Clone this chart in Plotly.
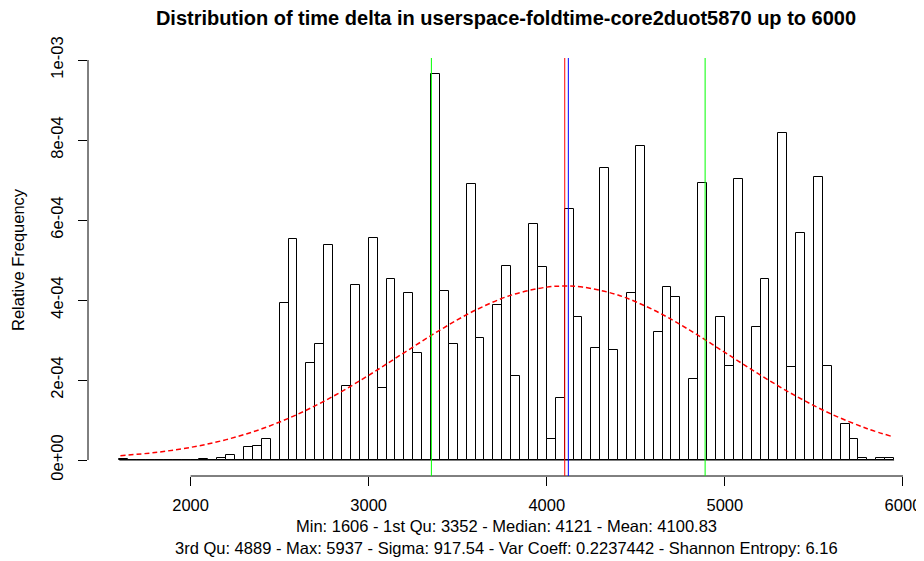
import plotly.graph_objects as go

# ---- data ----
BIN_START = 1600
BIN_WIDTH = 50
# relative frequency (density) per 50-wide bin, 1600..5950
heights = [
    0.02e-4, 0, 0, 0, 0, 0, 0, 0,            # 1600-2000
    0, 0.03e-4, 0, 0.04e-4, 0.12e-4, 0, 0.32e-4, 0.34e-4,   # 2000-2400
    0.52e-4, 0, 3.92e-4, 5.52e-4, 0, 2.42e-4, 2.90e-4, 5.38e-4,  # 2400-2800
    0, 1.85e-4, 4.38e-4, 0, 5.56e-4, 1.79e-4, 4.52e-4, 0,   # 2800-3200
    4.18e-4, 2.67e-4, 0, 9.65e-4, 4.22e-4, 2.89e-4, 0, 6.90e-4,  # 3200-3600
    3.04e-4, 0, 3.88e-4, 4.86e-4, 2.11e-4, 0, 5.89e-4, 4.83e-4,  # 3600-4000
    0.52e-4, 1.54e-4, 6.28e-4, 3.57e-4, 0, 2.79e-4, 7.29e-4, 2.75e-4,  # 4000-4400
    0, 4.18e-4, 7.86e-4, 0, 3.21e-4, 4.32e-4, 4.07e-4, 0,   # 4400-4800
    2.02e-4, 6.92e-4, 0, 3.58e-4, 2.36e-4, 7.03e-4, 0, 3.32e-4,  # 4800-5200
    4.52e-4, 0, 8.18e-4, 2.32e-4, 5.68e-4, 0, 7.08e-4, 2.35e-4,  # 5200-5600
    0, 0.89e-4, 0.52e-4, 0.04e-4, 0, 0.04e-4, 0.04e-4,      # 5600-5950
]

# fitted normal curve
curve_x = [1606, 1800, 2000, 2200, 2400, 2600, 2800, 3000, 3200, 3400, 3600, 3800,
           4000, 4100, 4200, 4400, 4600, 4800, 5000, 5200, 5400, 5600, 5800, 5937]
curve_y = [1.08e-5, 1.87e-5, 3.16e-5, 5.09e-5, 7.80e-5, 1.141e-4, 1.592e-4, 2.117e-4,
           2.685e-4, 3.248e-4, 3.746e-4, 4.121e-4, 4.322e-4, 4.348e-4, 4.323e-4,
           4.123e-4, 3.750e-4, 3.253e-4, 2.690e-4, 2.121e-4, 1.596e-4, 1.144e-4,
           7.83e-5, 5.90e-5]

q1, median, mean, q3 = 3352, 4121, 4100.83, 4889

x_ticks = [2000, 3000, 4000, 5000, 6000]
y_ticks = [0, 2e-4, 4e-4, 6e-4, 8e-4, 1e-3]
y_tick_text = ["0e+00", "2e-04", "4e-04", "6e-04", "8e-04", "1e-03"]

title = "Distribution of time delta in userspace-foldtime-core2duot5870 up to 6000"
sub1 = "Min: 1606 - 1st Qu: 3352 - Median: 4121 - Mean: 4100.83"
sub2 = "3rd Qu: 4889 - Max: 5937 - Sigma: 917.54 - Var Coeff: 0.2237442 - Shannon Entropy: 6.16"

centers = [BIN_START + BIN_WIDTH * (i + 0.5) for i in range(len(heights))]
edges_end = BIN_START + BIN_WIDTH * len(heights)

FONT = "Liberation Sans, Arial, Helvetica, sans-serif"
FS = 16.5

fig = go.Figure()
fig.add_trace(go.Bar(
    x=centers, y=heights, width=BIN_WIDTH,
    marker=dict(color="white", line=dict(color="black", width=1)),
    hoverinfo="x+y",
))
fig.add_trace(go.Scatter(
    x=curve_x, y=curve_y, mode="lines", line_shape="spline",
    line=dict(color="red", width=1.5, dash="5px,3px"),
))

shapes = []
# baseline of histogram
shapes.append(dict(type="line", xref="x", yref="y", x0=BIN_START, x1=edges_end, y0=0, y1=0,
                   line=dict(color="black", width=1)))
# axis lines (R style, only between extreme ticks)
shapes.append(dict(type="line", xref="x", yref="paper", x0=x_ticks[0], x1=x_ticks[-1], y0=0, y1=0,
                   line=dict(color="black", width=1)))
shapes.append(dict(type="line", xref="paper", yref="y", x0=0, x1=0, y0=y_ticks[0], y1=y_ticks[-1],
                   line=dict(color="black", width=1)))
for v, c in [(q1, "#00ff00"), (q3, "#00ff00"), (mean, "#ff0000"), (median, "#0000ff")]:
    shapes.append(dict(type="line", xref="x", yref="y", x0=v, x1=v, y0=-4e-5, y1=1.005e-3,
                       line=dict(color=c, width=1)))

# page body has an 8px margin, so the figure is sized to fill the rest of the window
fig.update_layout(
    width=916, height=553,
    margin=dict(l=80, r=0, t=36, b=85, autoexpand=False),
    paper_bgcolor="white", plot_bgcolor="white",
    showlegend=False,
    bargap=0,
    font=dict(family=FONT, size=FS, color="black"),
    title=dict(text="<b>" + title + "</b>", x=0.5, xref="paper", xanchor="center",
               y=0.982, yanchor="middle",
               font=dict(family=FONT, size=20, color="black")),
    xaxis=dict(range=[1424, 6118], showgrid=False, zeroline=False, showline=False,
               automargin=False,
               tickmode="array", tickvals=x_ticks, ticks="outside", ticklen=9, tickcolor="black",
               ticklabelstandoff=5, tickfont=dict(size=FS)),
    yaxis=dict(range=[-4e-5, 1.04e-3], showgrid=False, zeroline=False, showline=False,
               automargin=False,
               tickmode="array", tickvals=y_ticks, ticktext=y_tick_text, ticks="outside",
               ticklen=9, tickcolor="black", tickangle=-90, ticklabelstandoff=8,
               tickfont=dict(size=FS)),
    shapes=shapes,
    annotations=[
        dict(text=sub1, xref="paper", yref="paper", x=0.5, y=-0.1155, xanchor="center",
             yanchor="middle", showarrow=False, font=dict(size=FS)),
        dict(text=sub2, xref="paper", yref="paper", x=0.5, y=-0.1665, xanchor="center",
             yanchor="middle", showarrow=False, font=dict(size=FS)),
        dict(text="Relative Frequency", xref="paper", yref="paper", x=-0.0837, y=0.5,
             xanchor="center", yanchor="middle", textangle=-90, showarrow=False,
             font=dict(size=FS)),
    ],
)

fig.write_html("out.html")
